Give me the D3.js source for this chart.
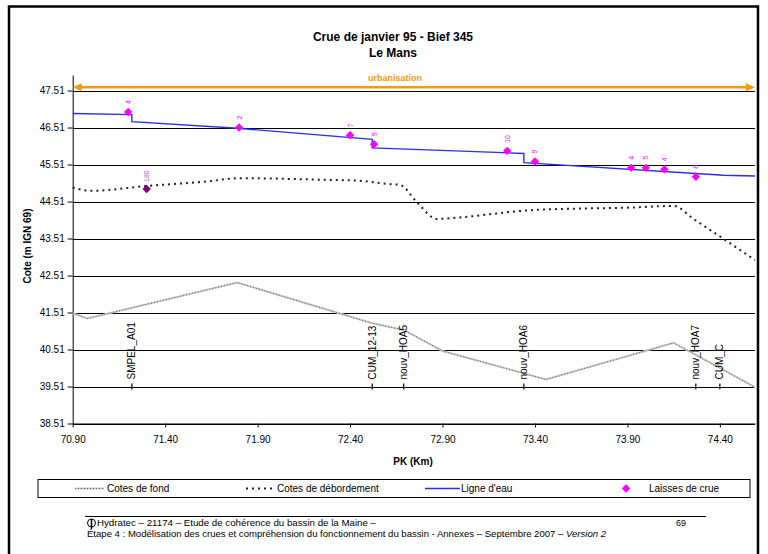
<!DOCTYPE html>
<html><head><meta charset="utf-8">
<script src="https://cdn.jsdelivr.net/npm/d3@7"></script>
<style>
html,body{margin:0;padding:0;background:#fff;}
text{font-family:"Liberation Sans",Arial,sans-serif;}
</style></head>
<body><svg id="c" width="768" height="554"></svg>
<script>
// ---- data ----
const title1 = "Crue de janvier 95 - Bief 345";
const title2 = "Le Mans";
const xTicks = [70.90, 71.40, 71.90, 72.40, 72.90, 73.40, 73.90, 74.40];
const yTicks = [38.51, 39.51, 40.51, 41.51, 42.51, 43.51, 44.51, 45.51, 46.51, 47.51];

const eauKm = [70.90, 71.22, 71.22, 71.79, 72.52, 72.52, 73.34, 73.34, 74.42, 74.59];
const eauZ  = [46.89, 46.86, 46.67, 46.49, 46.19, 45.96, 45.81, 45.56, 45.22, 45.20];

const debKm = [70.90, 71.00, 71.30, 71.62, 71.80, 72.24, 72.45, 72.62, 72.67, 72.76, 72.87, 72.99, 73.39, 73.93, 74.15, 74.26, 74.59];
const debZ  = [44.89, 44.80, 44.93, 45.05, 45.14, 45.10, 45.07, 44.98, 44.96, 44.50, 44.04, 44.08, 44.28, 44.35, 44.39, 44.03, 42.93];

const fondKm = [70.90, 70.98, 71.79, 72.52, 72.69, 72.90, 73.46, 74.15, 74.59];
const fondZ  = [41.49, 41.35, 42.32, 41.22, 41.04, 40.47, 39.70, 40.69, 39.49];

const laisseKm  = [71.20, 71.80, 72.40, 72.53, 73.25, 73.40, 73.92, 74.00, 74.10, 74.27];
const laisseZ   = [46.93, 46.51, 46.30, 46.06, 45.88, 45.59, 45.42, 45.42, 45.38, 45.18];
const laisseLab = ["4", "2", "7", "9", "10", "9", "4", "5", "4", "8"];

const autreKm = [71.30];
const autreZ  = [44.85];
const autreLab = ["180"];

const sectNames = ["SMPEL_A01", "CUM_12-13", "nouv_HOA5", "nouv_HOA6", "nouv_HOA7", "CUM_C"];
const sectKm    = [71.22, 72.52, 72.69, 73.34, 74.27, 74.40];
const sectZ     = 39.51;

const urbanKm = [70.90, 74.59];
const urbanZ = 47.60;
const urbanLabel = "urbanisation";

const legendLabels = ["Cotes de fond", "Cotes de débordement", "Ligne d'eau", "Laisses de crue"];
const footer1 = "Hydratec – 21174 – Etude de cohérence du bassin de la Maine –";
const footer2a = "Étape 4 : Modélisation des crues et compréhension du fonctionnement du bassin - Annexes – Septembre 2007 – ";
const footer2b = "Version 2";
const pageNum = "69";

// ---- drawing ----
const svg = d3.select("#c");
svg.append("rect").attr("width",768).attr("height",554).attr("fill","#fff");
// page frame
svg.append("path").attr("d","M9,554 V6.5 H758 V554").attr("fill","none").attr("stroke","#000").attr("stroke-width",2.5);

const x = d3.scaleLinear().domain([70.9, 74.59]).range([72.7, 755]);
const y = d3.scaleLinear().domain([38.51, 47.93]).range([423.5, 75]);

// titles
svg.append("text").attr("x",393).attr("y",41).attr("text-anchor","middle").attr("font-weight","bold").attr("font-size",12).text(title1);
svg.append("text").attr("x",393).attr("y",57).attr("text-anchor","middle").attr("font-weight","bold").attr("font-size",12).text(title2);

// gridlines
svg.append("g").selectAll("line").data(yTicks).join("line")
  .attr("x1",x(70.9)).attr("x2",x(74.59)).attr("y1",d=>Math.round(y(d))+0.5).attr("y2",d=>Math.round(y(d))+0.5)
  .attr("stroke","#000").attr("stroke-width",1);

// axes
const yAxis = d3.axisLeft(y).tickValues(yTicks).tickFormat(d3.format(".2f")).tickSizeOuter(0).tickSizeInner(5);
const gy = svg.append("g").attr("transform",`translate(${x(70.9)},0)`).call(yAxis);
gy.selectAll("text").attr("font-size",10).attr("fill","#000").attr("font-family","Liberation Sans, Arial");
const xAxis = d3.axisBottom(x).tickValues(xTicks).tickFormat(d3.format(".2f")).tickSizeOuter(0).tickSizeInner(4);
const gx = svg.append("g").attr("transform",`translate(0,${y(38.51)})`).call(xAxis);
gx.selectAll("text").attr("font-size",10).attr("fill","#000").attr("dy","1.2em").attr("font-family","Liberation Sans, Arial");
svg.selectAll(".domain").attr("stroke","#000");

svg.append("text").attr("x",413).attr("y",465).attr("text-anchor","middle").attr("font-weight","bold").attr("font-size",10).text("PK (Km)");
svg.append("text").attr("transform","translate(31,246) rotate(-90)").attr("text-anchor","middle").attr("font-weight","bold").attr("font-size",10).text("Cote (m IGN 69)");

// urbanisation arrow
const uy = y(urbanZ);
svg.append("line").attr("x1",x(urbanKm[0])+4).attr("x2",x(urbanKm[1])-4).attr("y1",uy).attr("y2",uy).attr("stroke","#FF9900").attr("stroke-width",2.5);
svg.append("path").attr("d",`M${x(urbanKm[0])},${uy} l9,-4 v8 z`).attr("fill","#FF9900");
svg.append("path").attr("d",`M${x(urbanKm[1])},${uy} l-9,-4 v8 z`).attr("fill","#FF9900");
svg.append("text").attr("x",395).attr("y",uy-6).attr("text-anchor","middle").attr("font-size",9).attr("font-weight","bold").attr("fill","#FF9900").text(urbanLabel);

const line = d3.line().x(d=>x(d[0])).y(d=>y(d[1]));

// cotes de fond
const fond = fondKm.map((k,i)=>[k,fondZ[i]]);
svg.append("path").attr("d",line(fond)).attr("fill","none").attr("stroke","#c8c8c8").attr("stroke-width",2);
svg.append("path").attr("d",line(fond)).attr("fill","none").attr("stroke","#444").attr("stroke-width",0.8).attr("stroke-dasharray","1,2");

// cotes de débordement
const deb = debKm.map((k,i)=>[k,debZ[i]]);
svg.append("path").attr("d",d3.line().x(d=>x(d[0])).y(d=>y(d[1])).curve(d3.curveMonotoneX)(deb))
  .attr("fill","none").attr("stroke","#222").attr("stroke-width",2).attr("stroke-dasharray","2,4");

// ligne d'eau
const eau = eauKm.map((k,i)=>[k,eauZ[i]]);
svg.append("path").attr("d",line(eau)).attr("fill","none").attr("stroke","#2b2bff").attr("stroke-width",1.4);

// sections
const sg = svg.append("g");
sectKm.forEach((k,i)=>{
  const sx = x(k), sy = y(sectZ);
  sg.append("line").attr("x1",sx).attr("x2",sx).attr("y1",sy-3).attr("y2",sy+3).attr("stroke","#000").attr("stroke-width",1.2);
  sg.append("text").attr("transform",`translate(${sx+3.5},${sy-7}) rotate(-90)`).attr("font-size",10).attr("fill","#000").text(sectNames[i]);
});

// laisses de crue
const diamond = d3.symbol().type(d3.symbolDiamond2).size(45);
laisseKm.forEach((k,i)=>{
  const px = x(k), py = y(laisseZ[i]);
  svg.append("path").attr("d",diamond()).attr("transform",`translate(${px},${py})`).attr("fill","#FF00FF");
  svg.append("text").attr("transform",`translate(${px+2.5},${py-8}) rotate(-90)`).attr("font-size",7).attr("fill","#FF00FF").text(laisseLab[i]);
});
autreKm.forEach((k,i)=>{
  const px = x(k), py = y(autreZ[i]);
  svg.append("path").attr("d",diamond()).attr("transform",`translate(${px},${py})`).attr("fill","#800080");
  svg.append("text").attr("transform",`translate(${px+2.5},${py-7}) rotate(-90)`).attr("font-size",7).attr("fill","#9a6ab0").text(autreLab[i]);
});

// legend
svg.append("rect").attr("x",38).attr("y",479.5).attr("width",712).attr("height",18).attr("fill","#fff").attr("stroke","#000").attr("stroke-width",1);
const ly = 488.5;
svg.append("line").attr("x1",75).attr("x2",104).attr("y1",ly).attr("y2",ly).attr("stroke","#c8c8c8").attr("stroke-width",2);
svg.append("line").attr("x1",75).attr("x2",104).attr("y1",ly).attr("y2",ly).attr("stroke","#444").attr("stroke-width",0.8).attr("stroke-dasharray","1,2");
svg.append("line").attr("x1",246).attr("x2",272).attr("y1",ly).attr("y2",ly).attr("stroke","#222").attr("stroke-width",2).attr("stroke-dasharray","2,4");
svg.append("line").attr("x1",425).attr("x2",460).attr("y1",ly).attr("y2",ly).attr("stroke","#2b2bff").attr("stroke-width",1.4);
svg.append("path").attr("d",diamond()).attr("transform",`translate(626,${ly})`).attr("fill","#FF00FF");
const lx = [107, 277, 461, 649];
legendLabels.forEach((t,i)=>svg.append("text").attr("x",lx[i]).attr("y",492).attr("font-size",10).text(t));

// footer
svg.append("line").attr("x1",85).attr("x2",706).attr("y1",516.5).attr("y2",516.5).attr("stroke","#000").attr("stroke-width",1);
svg.append("circle").attr("cx",91.5).attr("cy",523).attr("r",4).attr("fill","none").attr("stroke","#000").attr("stroke-width",1);
svg.append("line").attr("x1",91.5).attr("x2",91.5).attr("y1",519).attr("y2",529).attr("stroke","#000").attr("stroke-width",1.5);
svg.append("text").attr("x",97).attr("y",526).attr("font-size",9).attr("textLength",279).attr("lengthAdjust","spacingAndGlyphs").text(footer1);
const f2 = svg.append("text").attr("x",87).attr("y",537).attr("font-size",9).attr("textLength",519).attr("lengthAdjust","spacingAndGlyphs");
f2.append("tspan").text(footer2a);
f2.append("tspan").attr("font-style","italic").text(footer2b);
svg.append("text").attr("x",676).attr("y",526).attr("font-size",9).text(pageNum);
</script></body></html>
